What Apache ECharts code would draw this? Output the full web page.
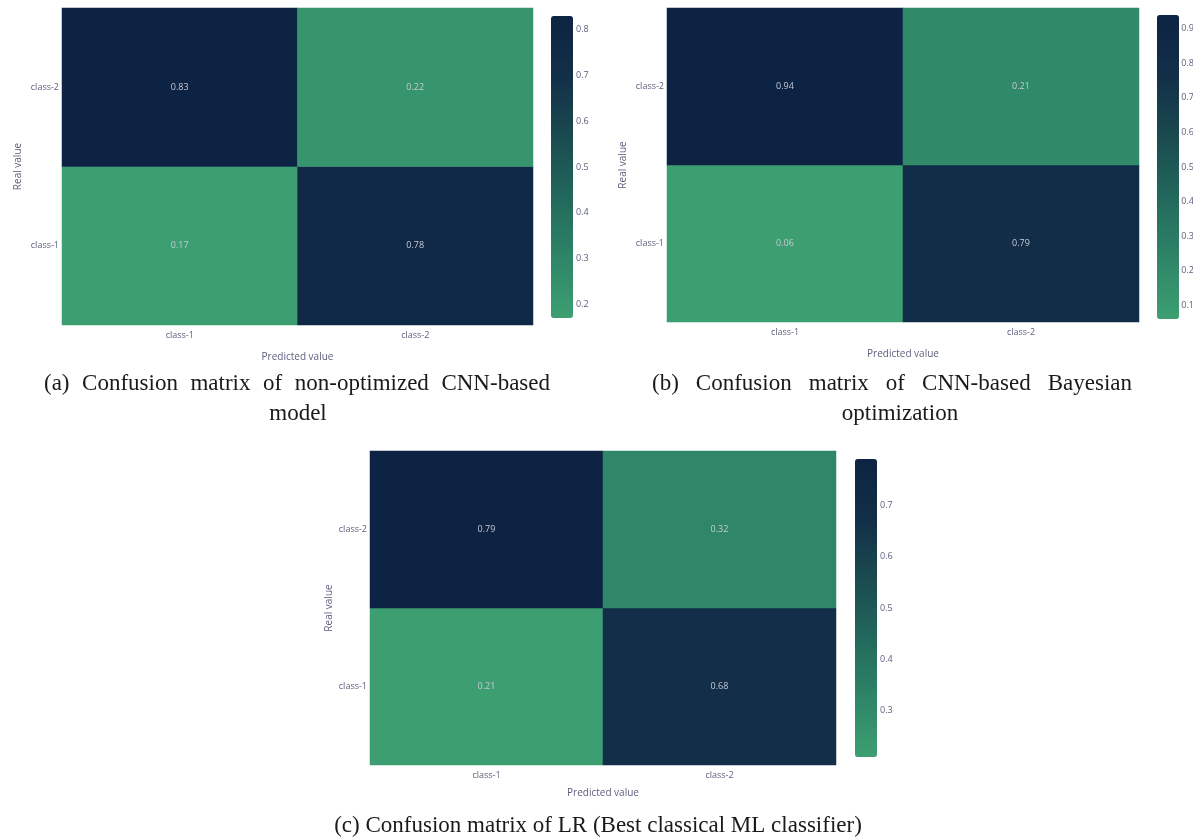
<!DOCTYPE html>
<html>
<head>
<meta charset="utf-8">
<script src="https://cdn.jsdelivr.net/npm/echarts@6/dist/echarts.min.js"></script>
<style>
html,body{margin:0;padding:0;background:#fff;}
#chart{width:1193px;height:839px;}
</style>
</head>
<body>
<div id="chart"></div>
<script>
// ---- data ----
const categories = ['class-1', 'class-2'];
// rows: [class-1 row (bottom), class-2 row (top)], each [pred class-1, pred class-2]
const matrixA = [[0.17, 0.78], [0.83, 0.22]];
const matrixB = [[0.06, 0.79], [0.94, 0.21]];
const matrixC = [[0.21, 0.68], [0.79, 0.32]];
const rangeA = [0.17, 0.83];
const rangeB = [0.06, 0.94];
const rangeC = [0.21, 0.79];
const ticksA = [0.2, 0.3, 0.4, 0.5, 0.6, 0.7, 0.8];
const ticksB = [0.1, 0.2, 0.3, 0.4, 0.5, 0.6, 0.7, 0.8, 0.9];
const ticksC = [0.3, 0.4, 0.5, 0.6, 0.7];
const captionA = ['(a) Confusion matrix of non-optimized CNN-based', 'model'];
const captionB = ['(b) Confusion matrix of CNN-based Bayesian', 'optimization'];
const captionC = ['(c) Confusion matrix of LR (Best classical ML classifier)'];
const xName = 'Predicted value';
const yName = 'Real value';

// ---- layout ----
const panels = [
  {m: matrixA, r: rangeA, t: ticksA, grid: {left: 62, top: 8, width: 471, height: 317}, cb: {left: 551, top: 16, w: 22, h: 302}, yGap: 39, xGap: 27},
  {m: matrixB, r: rangeB, t: ticksB, grid: {left: 667, top: 8, width: 472, height: 314}, cb: {left: 1157, top: 15, w: 22, h: 304}, yGap: 39, xGap: 27},
  {m: matrixC, r: rangeC, t: ticksC, grid: {left: 370, top: 451, width: 466, height: 314}, cb: {left: 855, top: 459, w: 22, h: 298}, yGap: 36, xGap: 23}
];
const colors = ['#3d9f71', '#2e8567', '#22685c', '#1a4a50', '#122f48', '#0d2343'];
const labelColor = '#5b5e7d';
const font = 'Open Sans';

const grid = [], xAxis = [], yAxis = [], series = [], visualMap = [];
panels.forEach((p, i) => {
  grid.push(Object.assign({}, p.grid));
  xAxis.push({
    type: 'category', gridIndex: 2 * i, data: categories,
    axisLine: {show: false}, axisTick: {show: false}, splitArea: {show: false},
    axisLabel: {color: labelColor, fontSize: 9, fontFamily: font, margin: 6},
    name: xName, nameLocation: 'middle', nameGap: p.xGap,
    nameTextStyle: {color: labelColor, fontSize: 10, fontFamily: font}
  });
  yAxis.push({
    type: 'category', gridIndex: 2 * i, data: categories,
    axisLine: {show: false}, axisTick: {show: false}, splitArea: {show: false},
    axisLabel: {color: labelColor, fontSize: 9, fontFamily: font, margin: 3},
    name: yName, nameLocation: 'middle', nameGap: p.yGap,
    nameTextStyle: {color: labelColor, fontSize: 10, fontFamily: font}
  });
  const data = [];
  p.m.forEach((row, yi) => row.forEach((v, xi) => data.push([xi, yi, v])));
  series.push({
    type: 'heatmap', xAxisIndex: 2 * i, yAxisIndex: 2 * i, data: data,
    label: {show: true, color: '#c9c9d6', fontSize: 9, fontFamily: font,
      formatter: (d) => d.value[2].toFixed(2)},
    itemStyle: {borderWidth: 0},
    emphasis: {disabled: true}
  });
  visualMap.push({
    type: 'continuous', seriesIndex: i, min: p.r[0], max: p.r[1],
    calculable: false, realtime: false, orient: 'vertical',
    left: p.cb.left - 15, top: p.cb.top - 15,
    itemWidth: p.cb.w, itemHeight: p.cb.h,
    inRange: {color: colors}, text: null, showLabel: false,
    textStyle: {color: 'transparent'}
  });
  // colorbar tick axis
  grid.push({left: p.cb.left + p.cb.w, top: p.cb.top, width: 1, height: p.cb.h});
  xAxis.push({type: 'value', gridIndex: 2 * i + 1, show: false});
  yAxis.push({
    type: 'value', gridIndex: 2 * i + 1, min: p.r[0], max: p.r[1], position: 'right',
    axisLine: {show: false}, axisTick: {show: false}, splitLine: {show: false},
    axisLabel: {color: labelColor, fontSize: 9, fontFamily: font, margin: 2,
      customValues: p.t, formatter: (v) => v.toFixed(1)}
  });
});

// captions: first line of multi-line captions justified (like LaTeX)
const capFont = '23px "Liberation Serif"';
const mctx = document.createElement('canvas').getContext('2d');
mctx.font = capFont;
const graphic = [];
function justifiedLine(text, x0, x1, y) {
  const words = text.split(' ');
  const widths = words.map(w => mctx.measureText(w).width);
  const total = widths.reduce((a, b) => a + b, 0);
  const gap = (x1 - x0 - total) / (words.length - 1);
  let x = x0;
  words.forEach((w, k) => {
    graphic.push({type: 'text', x: x, y: y,
      style: {text: w, fill: '#1a1a1a', font: capFont, textAlign: 'left', textVerticalAlign: 'middle'}});
    x += widths[k] + gap;
  });
}
function centeredLine(text, cx, y) {
  graphic.push({type: 'text', x: cx, y: y,
    style: {text: text, fill: '#1a1a1a', font: capFont, textAlign: 'center', textVerticalAlign: 'middle'}});
}
justifiedLine(captionA[0], 44, 550, 384);
centeredLine(captionA[1], 298, 414);
justifiedLine(captionB[0], 652, 1132, 384);
centeredLine(captionB[1], 900, 414);
centeredLine(captionC[0], 598, 826);

const chart = echarts.init(document.getElementById('chart'), null, {renderer: 'canvas'});
chart.setOption({
  animation: false,
  backgroundColor: '#ffffff',
  grid, xAxis, yAxis, series, visualMap, graphic
});
</script>
</body>
</html>
